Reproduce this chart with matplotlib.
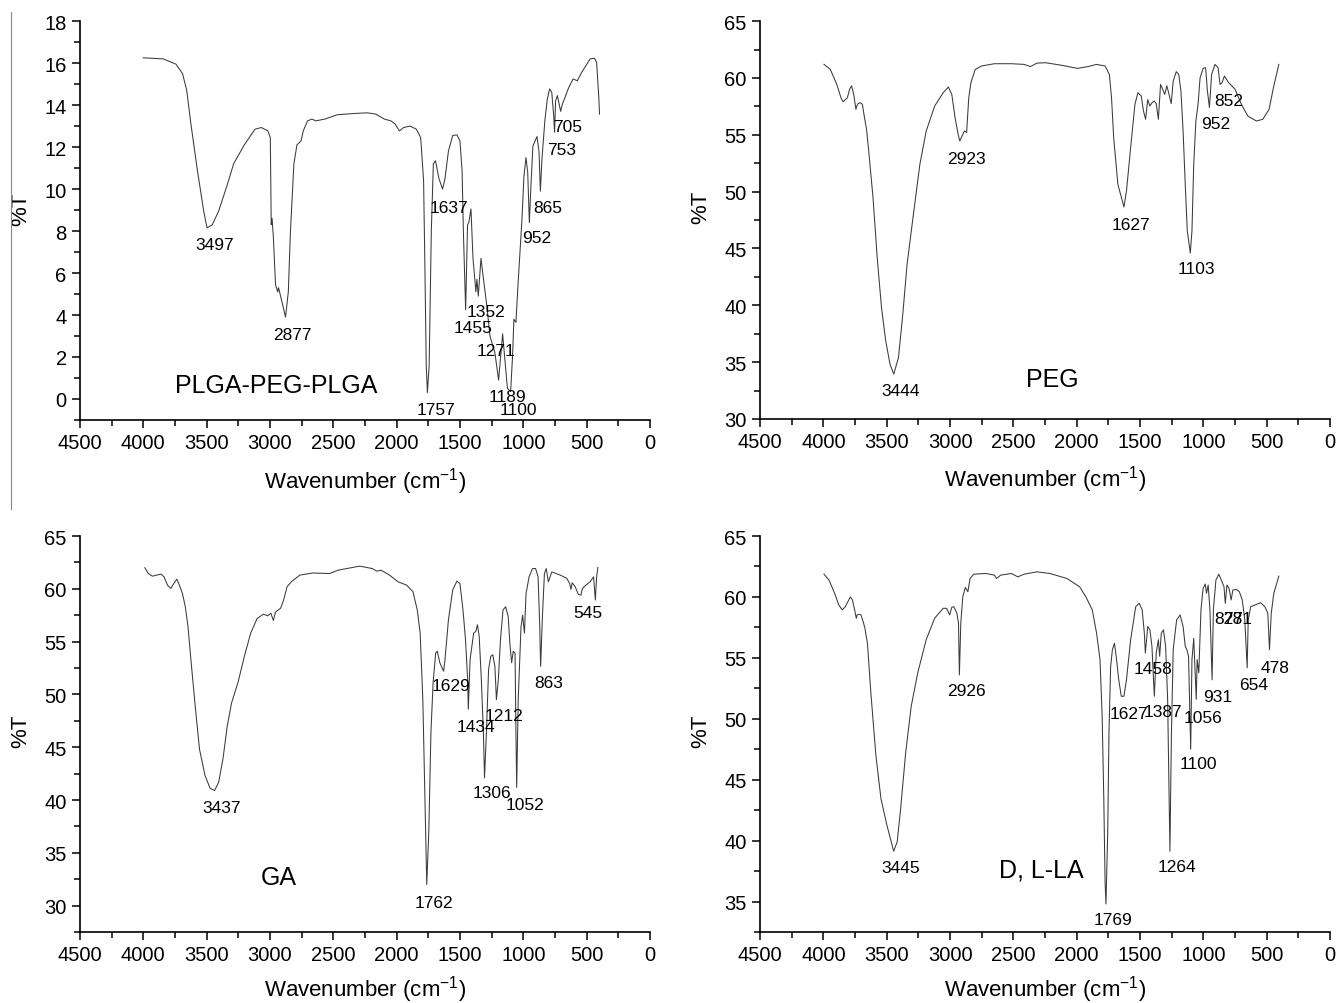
import matplotlib.pyplot as plt
import numpy as np
from matplotlib.ticker import MultipleLocator
from matplotlib.lines import Line2D

plt.rcParams['font.family'] = ['Liberation Sans', 'DejaVu Sans']
plt.rcParams['mathtext.default'] = 'regular'

# FTIR spectra, (wavenumber cm-1, %T)
plga = np.array([
    (4000, 16.25), (3843, 16.2), (3742, 15.95), (3690, 15.5), (3657, 14.7), (3624, 13.1),
    (3573, 10.9), (3523, 8.95), (3497, 8.15), (3455, 8.3), (3405, 8.95), (3337, 10.2),
    (3287, 11.2), (3203, 12.1), (3118, 12.85), (3068, 12.93), (3017, 12.77), (2997, 12.45),
    (2990, 8.3), (2983, 8.6), (2973, 7.7), (2956, 5.45), (2939, 5.1), (2932, 5.3),
    (2912, 4.8), (2877, 3.9), (2855, 5.1), (2838, 8.0), (2811, 11.2), (2787, 12.1),
    (2754, 12.3), (2737, 12.77), (2703, 13.25), (2670, 13.33), (2636, 13.25), (2568, 13.33),
    (2467, 13.54), (2332, 13.6), (2231, 13.63), (2164, 13.57), (2096, 13.33), (2046, 13.25),
    (2012, 13.1), (1978, 12.77), (1945, 12.93), (1894, 13.0), (1844, 12.85), (1810, 12.45),
    (1787, 10.4), (1777, 6.4), (1766, 1.6), (1757, 0.3), (1743, 1.6), (1726, 8.0),
    (1710, 11.2), (1693, 11.35), (1666, 10.5), (1637, 10.0), (1618, 10.5), (1591, 11.8),
    (1557, 12.55), (1524, 12.58), (1500, 12.3), (1483, 10.86), (1473, 8.0), (1455, 4.25),
    (1440, 8.3), (1430, 8.4), (1413, 9.05), (1397, 6.7), (1374, 5.1), (1366, 5.7),
    (1355, 4.9), (1334, 6.7), (1318, 5.9), (1287, 4.4), (1263, 3.0), (1224, 2.2),
    (1195, 0.9), (1176, 2.2), (1163, 3.1), (1150, 2.2), (1125, 0.5), (1100, 0.35),
    (1085, 2.0), (1074, 3.8), (1058, 3.65), (1042, 5.4), (1010, 8.6), (995, 10.6),
    (979, 11.5), (965, 10.8), (952, 8.4), (940, 10.1), (924, 12.05), (892, 12.5),
    (876, 11.8), (865, 9.9), (853, 11.4), (829, 13.3), (810, 14.3), (792, 14.77),
    (775, 14.6), (760, 13.5), (753, 12.7), (745, 14.2), (731, 14.45), (715, 14.0),
    (705, 13.7), (691, 14.05), (640, 14.85), (607, 15.24), (573, 15.16), (539, 15.56),
    (472, 16.2), (438, 16.23), (421, 16.04), (404, 14.37), (398, 13.57),
])

peg = np.array([
    (3995, 61.2), (3945, 60.75), (3894, 59.43), (3861, 58.26), (3845, 57.9), (3810, 58.26),
    (3793, 59.0), (3777, 59.3), (3760, 58.55), (3743, 57.24), (3736, 57.53), (3726, 57.74),
    (3709, 57.82), (3692, 57.68), (3675, 56.5), (3659, 55.48), (3642, 53.58), (3608, 49.48),
    (3575, 44.2), (3541, 39.8), (3508, 36.9), (3474, 34.83), (3444, 33.95), (3407, 35.4),
    (3373, 39.2), (3339, 43.6), (3289, 48.0), (3238, 52.4), (3188, 55.33), (3121, 57.53),
    (3054, 58.7), (3013, 59.2), (2986, 58.55), (2960, 56.5), (2936, 55.04), (2923, 54.45),
    (2899, 55.04), (2886, 55.33), (2869, 55.2), (2852, 58.26), (2835, 59.58), (2801, 60.75),
    (2751, 61.05), (2650, 61.25), (2516, 61.25), (2415, 61.19), (2365, 61.0), (2314, 61.3),
    (2247, 61.34), (2112, 61.1), (1994, 60.84), (1910, 61.0), (1843, 61.19), (1776, 61.05),
    (1742, 60.3), (1725, 58.26), (1708, 54.75), (1675, 50.65), (1627, 48.65), (1607, 50.06),
    (1574, 53.87), (1540, 57.68), (1517, 58.7), (1490, 58.4), (1473, 57.1), (1456, 56.36),
    (1439, 58.1), (1422, 57.53), (1405, 57.82), (1389, 57.97), (1372, 57.74), (1355, 56.36),
    (1338, 59.43), (1321, 59.0), (1305, 58.55), (1288, 59.3), (1271, 58.55), (1254, 57.74),
    (1238, 59.73), (1214, 60.55), (1194, 60.3), (1177, 58.85), (1160, 55.33), (1143, 50.65),
    (1127, 46.55), (1103, 44.6), (1090, 46.55), (1076, 52.4), (1059, 56.2), (1042, 57.68),
    (1026, 60.0), (1002, 60.84), (982, 60.9), (968, 58.85), (952, 57.4), (935, 60.3),
    (908, 61.19), (884, 60.9), (868, 59.43), (852, 59.58), (834, 60.17), (800, 59.58),
    (750, 59.0), (700, 57.68), (649, 56.65), (582, 56.21), (531, 56.36), (481, 57.24),
    (447, 59.14), (404, 61.19),
])

ga = np.array([
    (3988, 62.0), (3961, 61.45), (3927, 61.2), (3894, 61.3), (3860, 61.4), (3836, 61.14),
    (3809, 60.35), (3782, 60.04), (3759, 60.5), (3735, 60.92), (3715, 60.35), (3691, 59.57),
    (3668, 58.3), (3647, 56.43), (3624, 53.3), (3590, 48.9), (3556, 44.8), (3512, 42.3),
    (3472, 41.1), (3437, 40.9), (3405, 41.68), (3371, 43.88), (3337, 47.0), (3303, 49.2),
    (3253, 51.1), (3202, 53.6), (3152, 55.8), (3101, 57.2), (3051, 57.6), (3017, 57.44),
    (2993, 57.7), (2973, 57.0), (2956, 57.8), (2933, 58.0), (2916, 58.16), (2892, 58.94),
    (2865, 60.2), (2831, 60.67), (2764, 61.3), (2663, 61.5), (2528, 61.45), (2461, 61.77),
    (2393, 61.92), (2292, 62.15), (2191, 61.92), (2157, 61.67), (2124, 61.77), (2056, 61.3),
    (1989, 60.67), (1921, 60.35), (1871, 59.73), (1837, 58.0), (1814, 55.8), (1793, 49.5),
    (1776, 40.1), (1762, 32.0), (1746, 36.97), (1729, 46.4), (1712, 51.1), (1692, 53.9),
    (1679, 54.1), (1659, 53.0), (1629, 52.2), (1618, 53.3), (1591, 57.06), (1557, 59.9),
    (1524, 60.73), (1500, 60.5), (1476, 58.0), (1456, 55.17), (1439, 51.4), (1434, 48.6),
    (1420, 53.3), (1392, 55.8), (1375, 55.96), (1362, 56.6), (1348, 55.5), (1331, 51.4),
    (1315, 46.4), (1306, 42.1), (1291, 46.4), (1274, 52.35), (1257, 53.6), (1241, 53.76),
    (1224, 52.66), (1212, 49.5), (1197, 51.4), (1180, 55.2), (1160, 58.0), (1139, 58.3),
    (1119, 57.37), (1106, 54.86), (1092, 53.0), (1079, 54.1), (1065, 53.9), (1058, 46.4),
    (1052, 41.2), (1040, 49.5), (1018, 56.4), (1005, 57.5), (991, 55.8), (978, 59.57),
    (954, 61.14), (927, 61.92), (903, 61.92), (883, 61.14), (870, 56.4), (863, 52.66),
    (849, 57.37), (833, 61.45), (819, 61.92), (802, 60.67), (775, 61.6), (708, 61.3),
    (657, 61.0), (634, 60.5), (624, 59.95), (614, 60.57), (590, 60.2), (566, 59.48),
    (545, 59.4), (533, 60.04), (506, 60.35), (472, 60.67), (445, 61.14), (431, 58.94),
    (421, 61.14), (411, 62.02),
])

dlla = np.array([
    (3995, 61.87), (3955, 61.38), (3911, 60.3), (3878, 59.34), (3851, 58.94), (3827, 59.2),
    (3800, 59.75), (3787, 60.0), (3770, 59.75), (3753, 58.94), (3740, 58.25), (3733, 58.53),
    (3720, 58.58), (3703, 58.53), (3686, 57.98), (3672, 57.44), (3652, 56.2), (3625, 52.14),
    (3585, 46.97), (3545, 43.43), (3498, 41.26), (3464, 39.9), (3445, 39.13), (3417, 39.9),
    (3390, 42.6), (3350, 47.24), (3306, 51.05), (3255, 53.77), (3188, 56.5), (3121, 58.26),
    (3054, 59.07), (3027, 59.07), (3003, 58.53), (2986, 59.15), (2970, 59.2), (2946, 58.66),
    (2933, 57.85), (2926, 53.6), (2915, 57.85), (2899, 60.02), (2879, 60.78), (2859, 60.43),
    (2842, 61.52), (2812, 61.87), (2717, 61.93), (2650, 61.79), (2633, 61.52), (2600, 61.79),
    (2516, 61.93), (2465, 61.65), (2415, 61.87), (2314, 62.06), (2213, 61.93), (2078, 61.52),
    (1977, 60.84), (1927, 60.0), (1877, 58.94), (1843, 57.03), (1816, 54.86), (1799, 50.23),
    (1786, 43.43), (1776, 36.63), (1769, 34.8), (1755, 40.7), (1745, 48.9), (1732, 54.3),
    (1718, 55.67), (1702, 56.2), (1688, 55.13), (1668, 53.2), (1648, 51.85), (1627, 51.85),
    (1607, 53.2), (1574, 56.5), (1534, 59.2), (1507, 59.48), (1483, 58.94), (1466, 57.03),
    (1458, 55.4), (1439, 57.58), (1422, 57.3), (1406, 55.95), (1387, 51.85), (1372, 55.4),
    (1355, 56.5), (1345, 55.13), (1332, 57.03), (1315, 57.3), (1298, 55.95), (1282, 51.6),
    (1264, 39.13), (1252, 48.87), (1238, 55.67), (1211, 58.12), (1184, 58.53), (1160, 57.58),
    (1143, 55.95), (1130, 55.67), (1117, 55.13), (1100, 47.5), (1090, 54.86), (1076, 56.6),
    (1056, 51.6), (1049, 54.86), (1036, 53.77), (1019, 58.94), (1002, 60.7), (985, 61.06),
    (975, 60.3), (962, 60.98), (948, 58.94), (931, 53.2), (921, 58.94), (901, 61.38),
    (878, 61.87), (858, 61.38), (837, 60.84), (827, 59.48), (814, 60.98), (797, 60.7),
    (781, 59.75), (767, 60.57), (740, 60.62), (716, 60.43), (693, 59.75), (673, 58.12),
    (654, 54.18), (646, 58.12), (626, 59.2), (592, 59.34), (548, 59.53), (515, 59.2),
    (491, 58.66), (478, 55.67), (464, 58.66), (444, 60.3), (404, 61.71),
])

# peak labels: (text, x, y)
plga_peaks = [('3497', 3438, 7.36), ('2877', 2825, 3.06), ('1637', 1584, 9.14),
              ('1352', 1298, 4.17), ('1455', 1399, 3.41), ('1271', 1214, 2.29),
              ('1189', 1129, 0.14), ('1100', 1038, -0.48), ('1757', 1692, -0.48),
              ('952', 893, 7.71), ('865', 809, 9.14), ('753', 701, 11.9), ('705', 647, 12.97)]
peg_peaks = [('3444', 3390, 32.5), ('2923', 2869, 52.9), ('1627', 1574, 47.1),
             ('1103', 1053, 43.2), ('952', 901, 56.0), ('852', 800, 58.0)]
ga_peaks = [('3437', 3378, 39.3), ('1762', 1702, 30.3), ('1629', 1568, 50.8),
            ('1434', 1375, 47.0), ('1212', 1153, 48.0), ('1306', 1247, 40.7),
            ('1052', 984, 39.55), ('863', 802, 51.1), ('545', 489, 57.8)]
dlla_peaks = [('3445', 3390, 37.8), ('2926', 2869, 52.3), ('1769', 1715, 33.5),
              ('1627', 1591, 50.4), ('1387', 1322, 50.56), ('1458', 1399, 54.1),
              ('1264', 1211, 37.85), ('1100', 1043, 46.3), ('1056', 1002, 50.1),
              ('931', 884, 51.86), ('654', 605, 52.8), ('478', 430, 54.2),
              ('827', 800, 58.2), ('781', 733, 58.2)]

fig = plt.figure(figsize=(13.39, 10.04), dpi=100)


def panel(rect, spec, peaks, name, name_xy, ylim, ymaj, ymin, ylab_y, xlab_y):
    ax = fig.add_axes(rect)
    ax.plot(spec[:, 0], spec[:, 1], color='#3a3a3a', lw=0.75)
    ax.set_xlim(4500, 0)
    ax.set_ylim(*ylim)
    ax.spines['top'].set_visible(False)
    ax.spines['right'].set_visible(False)
    for s in ('left', 'bottom'):
        ax.spines[s].set_linewidth(1.2)
    ax.xaxis.set_major_locator(MultipleLocator(500))
    ax.xaxis.set_minor_locator(MultipleLocator(250))
    ax.yaxis.set_major_locator(MultipleLocator(ymaj))
    ax.yaxis.set_minor_locator(MultipleLocator(ymin))
    ax.tick_params(which='both', direction='out', width=1.1, labelsize=14.5)
    ax.tick_params(which='major', length=6)
    ax.tick_params(which='minor', length=4.5)
    ax.set_xlabel(r'Wavenumber (cm$^{-1}$)', fontsize=16)
    ax.xaxis.set_label_coords(0.5, xlab_y)
    ax.set_ylabel('%T', fontsize=16)
    ax.yaxis.set_label_coords(-0.085, ylab_y)
    for s, x, y in peaks:
        ax.text(x, y, s, ha='center', va='center', fontsize=12.5)
    ax.text(name_xy[0], name_xy[1], name, ha='center', va='center', fontsize=18)
    return ax


panel([0.0597, 0.5807, 0.4257, 0.3973], plga, plga_peaks, 'PLGA-PEG-PLGA', (2950, 0.67),
      (-1, 18), 2, 1, 0.53, -0.112)
panel([0.5676, 0.5817, 0.4257, 0.3963], peg, peg_peaks, 'PEG', (2196, 33.5),
      (30, 65), 5, 2.5, 0.535, -0.112)
panel([0.0597, 0.0707, 0.4257, 0.3944], ga, ga_peaks, 'GA', (2933, 32.7),
      (27.5, 65), 5, 2.5, 0.51, -0.104)
panel([0.5676, 0.0707, 0.4257, 0.3944], dlla, dlla_peaks, 'D, L-LA', (2280, 37.6),
      (32.5, 65), 5, 2.5, 0.51, -0.104)

# thin separator line at the left edge
fig.add_artist(Line2D([0.0082, 0.0082], [0.987, 0.492], color='#888888', lw=0.8))

fig.savefig('out.png', dpi=100)
